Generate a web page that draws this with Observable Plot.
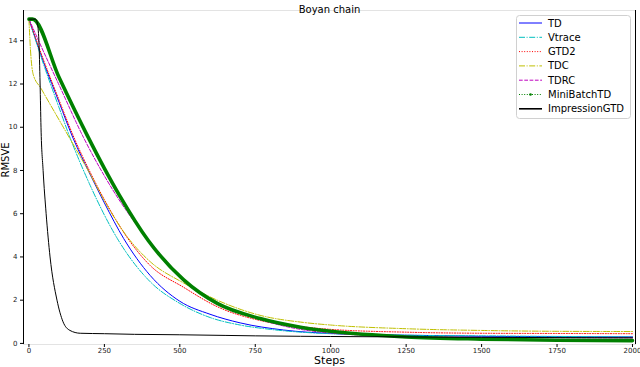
<!DOCTYPE html>
<html><head><meta charset="utf-8">
<script src="https://cdn.jsdelivr.net/npm/d3@7"></script>
<script src="https://cdn.jsdelivr.net/npm/@observablehq/plot@0.6"></script>
<style>body{margin:0;background:#fff} svg{display:block;overflow:visible}</style>
</head><body><div id="chart"></div>
<script>
const seriesNames = ["TD", "Vtrace", "GTD2", "TDC", "TDRC", "MiniBatchTD", "ImpressionGTD"];
const xTicks = [0, 250, 500, 750, 1000, 1250, 1500, 1750, 2000];
const yTicks = [0, 2, 4, 6, 8, 10, 12, 14];

const tdSteps  = [0, 50, 100, 147, 200, 250, 314, 402, 500, 600, 700, 844, 1000, 1250, 1500, 1750, 2000];
const tdValues = [15, 12.95, 11.15, 9.47, 7.9, 6.5, 4.85, 3.14, 1.95, 1.35, 0.95, 0.62, 0.46, 0.38, 0.33, 0.31, 0.3];

const vtraceSteps  = [0, 50, 100, 134, 200, 293, 402, 500, 600, 700, 800, 1000, 1250, 1500, 2000];
const vtraceValues = [15, 12.85, 10.9, 9.6, 7.4, 4.85, 2.85, 1.85, 1.2, 0.85, 0.65, 0.45, 0.38, 0.35, 0.3];

const gtd2Steps  = [0, 50, 100, 150, 200, 250, 328, 402, 512, 624, 766, 900, 1000, 1250, 1500, 1750, 2000];
const gtd2Values = [15, 13.05, 11.25, 9.5, 8.0, 6.65, 4.85, 3.6, 2.6, 1.7, 1.06, 0.78, 0.65, 0.52, 0.47, 0.46, 0.45];

const tdcSteps  = [0, 5, 14, 40, 114, 200, 260, 325, 402, 512, 624, 766, 910, 1000, 1250, 1500, 1750, 2000];
const tdcValues = [15, 13.6, 12.45, 11.8, 10.0, 7.9, 6.35, 4.95, 3.78, 2.8, 2.0, 1.3, 0.97, 0.85, 0.68, 0.6, 0.56, 0.55];

const tdrcSteps  = [0, 50, 100, 180, 250, 320, 396, 500, 624, 766, 900, 1000, 1250, 1500, 2000];
const tdrcValues = [15, 13.45, 11.95, 9.55, 7.75, 6.2, 4.8, 3.15, 1.85, 1.1, 0.65, 0.48, 0.32, 0.28, 0.26];

const miniSteps  = [0, 12, 100, 194, 250, 300, 396, 512, 624, 766, 900, 1000, 1250, 1500, 1750, 2000];
const miniValues = [15, 15, 12.3, 9.6, 8.1, 6.85, 4.75, 2.95, 1.85, 1.15, 0.75, 0.56, 0.3, 0.2, 0.15, 0.13];

const impSteps  = [0, 22, 28, 33, 37, 40, 47, 57, 70, 93, 113, 136, 170, 250, 350, 500, 650, 750, 900, 1000, 1250, 1500, 1750, 2000];
const impValues = [15, 15, 14.8, 14, 12, 10, 8, 6, 4, 2, 1, 0.6, 0.47, 0.45, 0.42, 0.4, 0.37, 0.35, 0.33, 0.32, 0.3, 0.28, 0.27, 0.26];

const xDomain = [-18, 2010];
const yDomain = [-0.05, 15.4];

const styles = {
  "TD":            {stroke: "#0000ff", width: 1,   dash: null},
  "Vtrace":        {stroke: "#00bfbf", width: 1,   dash: "6,1.6,1,1.6"},
  "GTD2":          {stroke: "#ff0000", width: 1,   dash: "1,1.6"},
  "TDC":           {stroke: "#bfbf00", width: 1,   dash: "6,1.6,1,1.6"},
  "TDRC":          {stroke: "#bf00bf", width: 1,   dash: "3.7,1.6"},
  "MiniBatchTD":   {stroke: "#008000", width: 3.6, dash: null},
  "ImpressionGTD": {stroke: "#000000", width: 1,   dash: null}
};

function mk(name, steps, vals) {
  return steps.map((s, i) => ({series: name, step: s, value: vals[i]}));
}
const data = {
  "TD": mk("TD", tdSteps, tdValues),
  "Vtrace": mk("Vtrace", vtraceSteps, vtraceValues),
  "GTD2": mk("GTD2", gtd2Steps, gtd2Values),
  "TDC": mk("TDC", tdcSteps, tdcValues),
  "TDRC": mk("TDRC", tdrcSteps, tdrcValues),
  "MiniBatchTD": mk("MiniBatchTD", miniSteps, miniValues),
  "ImpressionGTD": mk("ImpressionGTD", impSteps, impValues)
};

const lineMarks = seriesNames.map(n => Plot.line(data[n], {
  x: "step", y: "value", curve: "monotone-x",
  stroke: styles[n].stroke, strokeWidth: styles[n].width,
  strokeDasharray: styles[n].dash
}));

const chart = Plot.plot({
  width: 640, height: 367,
  marginLeft: 23, marginRight: 5, marginTop: 10, marginBottom: 23,
  x: {domain: xDomain},
  y: {domain: yDomain},
  style: {fontFamily: "DejaVu Sans", background: "#fff", overflow: "visible"},
  marks: [
    Plot.frame({stroke: "#e3e3e3"}),
    Plot.axisX({ticks: xTicks, tickFormat: "d", tickSize: 3, tickPadding: 1, fontSize: 7, label: null, fill: "#222"}),
    Plot.axisY({ticks: yTicks, tickFormat: "d", tickSize: 3, tickPadding: 3, fontSize: 7, label: null, fill: "#222"}),
    ...lineMarks,
    Plot.ruleX(xDomain, {stroke: "#000", strokeWidth: 1}),
    Plot.text(["Boyan chain"], {frameAnchor: "top", dy: -5, fontSize: 10}),
    Plot.text(["Steps"], {frameAnchor: "bottom", dy: 19.5, fontSize: 11}),
    Plot.text(["RMSVE"], {frameAnchor: "left", dx: -18, rotate: -90, fontSize: 10})
  ]
});
document.getElementById("chart").appendChild(chart);

// legend
const svg = d3.select(chart);
const lg = svg.append("g").attr("font-family", "DejaVu Sans").attr("font-size", 10).attr("text-anchor", "start");
lg.append("rect").attr("x", 516.5).attr("y", 15.5).attr("width", 114).attr("height", 103)
  .attr("rx", 3).attr("fill", "#fff").attr("fill-opacity", 0.85).attr("stroke", "#d0d0d0");
seriesNames.forEach((n, i) => {
  const y = 23 + i * 14.3;
  const st = styles[n];
  lg.append("line").attr("x1", 519).attr("x2", 542).attr("y1", y).attr("y2", y)
    .attr("stroke", st.stroke)
    .attr("stroke-width", n === "ImpressionGTD" ? 1.6 : 1)
    .attr("stroke-dasharray", n === "MiniBatchTD" ? "1,1.6" : st.dash);
  if (n === "MiniBatchTD") {
    lg.append("circle").attr("cx", 530.5).attr("cy", y).attr("r", 1.3).attr("fill", st.stroke);
  }
  lg.append("text").attr("x", 548).attr("y", y).attr("dy", "0.35em").attr("fill", "#000")
    .attr("text-anchor", "start").text(n);
});
</script>
</body></html>
